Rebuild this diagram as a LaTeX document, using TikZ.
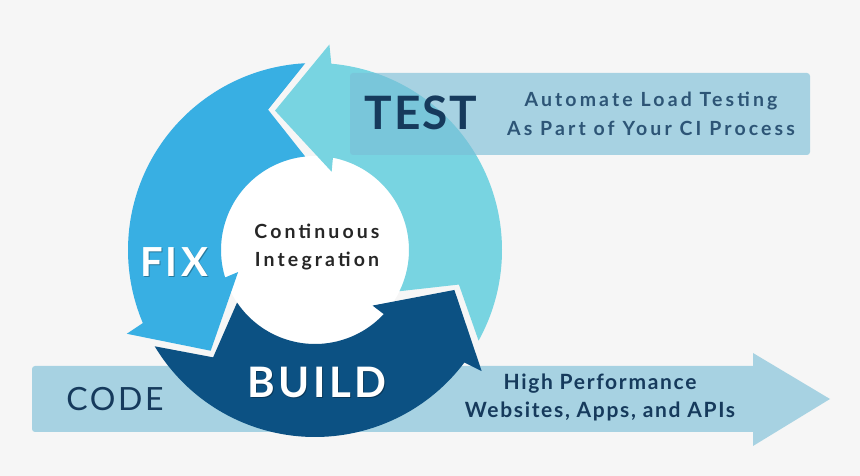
\documentclass[tikz,border=0pt]{standalone}
\usepackage{fontspec}
\setmainfont{Lato}
\usetikzlibrary{calc}
\definecolor{paper}{HTML}{F6F6F6}
\definecolor{fixblue}{HTML}{38AFE3}
\definecolor{testcyan}{HTML}{78D4E1}
\definecolor{buildnavy}{HTML}{0C5183}
\definecolor{banner}{RGB}{123,191,215}
\definecolor{inknavy}{HTML}{163A5C}
\definecolor{inksoft}{HTML}{2D5576}
\tikzset{
  banner/.style={fill=banner, fill opacity=0.64},
  stage/.style={anchor=base, text=inknavy, font=\bfseries\fontsize{46}{46}\selectfont\addfontfeatures{LetterSpace=4}},
  cycleword/.style={anchor=base, text=white, font=\bfseries\fontsize{40}{40}\selectfont\addfontfeatures{LetterSpace=8}},
  note/.style={anchor=base, text=inksoft, font=\bfseries\fontsize{19.5}{19.5}\selectfont\addfontfeatures{LetterSpace=16}},
  outnote/.style={anchor=base, text=inknavy, font=\bfseries\fontsize{21}{21}\selectfont\addfontfeatures{LetterSpace=8}},
}
\newcommand{\ciarrow}[3]{%
  \fill[#3] ($(C)+(#2-13:187)$) arc[start angle=#2-13, end angle=#1-21, radius=187]
    -- ($(C)+(#1-20:206)$) -- ($(C)+(#1:145)$) -- ($(C)+(#1-28:80)$)
    -- ($(C)+(#1-27:94)$) arc[start angle=#1-27, end angle=#2-10, radius=94]
    -- ($(C)+(#2+2.5:148)$) -- cycle;}

\begin{document}
\begin{tikzpicture}[x=1pt, y=1pt]
  \fill[paper] (0,0) rectangle (860,476);
  \useasboundingbox (0,0) rectangle (860,476);
  \coordinate (C) at (315,226);

  \fill[banner] (753,110) -- (753,123) -- (830,77) -- (753,30) -- (753,44)
    [rounded corners=3pt] -- (32,44) -- (32,110) [sharp corners] -- cycle;

  \fill[white] (C) circle[radius=94];
  \ciarrow{344}{224}{buildnavy}
  \ciarrow{106}{-16}{testcyan}
  \ciarrow{224}{106}{fixblue}

  \fill[banner, rounded corners=3pt] (350,321) rectangle (810,403);

  \node[note, text=black!85] (cont) at (317,237) {Continuous};
  \node[note, text=black!85] (integ) at (317,209) {Integration};

  \node[stage] (test) at (421,346) {TEST};
  \node[note] (auto) at (651,369) {Automate Load Testing};
  \node[note] (part) at (651,340) {As Part of Your CI Process};

  \node[cycleword, text=black, opacity=0.3] at (175,198) {FIX};
  \node[cycleword] (fix) at (174,199) {FIX};
  \node[cycleword, font=\bfseries\fontsize{42}{42}\selectfont\addfontfeatures{LetterSpace=8}, text=black, opacity=0.3] at (318,77) {BUILD};
  \node[cycleword, font=\bfseries\fontsize{42}{42}\selectfont\addfontfeatures{LetterSpace=8}] (build) at (317,78) {BUILD};

  \node[stage, font=\fontsize{32}{32}\selectfont\addfontfeatures{LetterSpace=8}] (code) at (115,65) {CODE};
  \node[outnote] (perf) at (600,86) {High Performance};
  \node[outnote] (apps) at (600,58) {Websites, Apps, and APIs};
\end{tikzpicture}
\end{document}
